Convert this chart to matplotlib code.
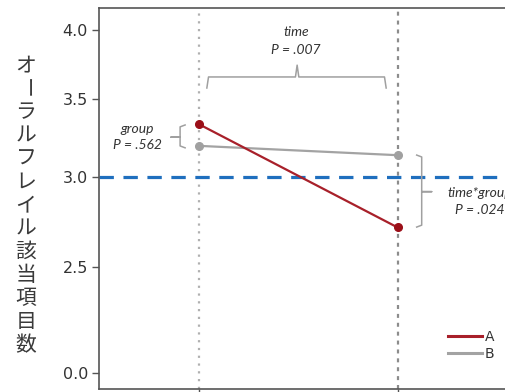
import matplotlib
matplotlib.use("Agg")
import matplotlib.pyplot as plt
from matplotlib.lines import Line2D
import numpy as np

# data
time_points = [1, 2]
group_a = [3.34, 2.72]
group_b = [3.20, 3.14]
cutoff = 3.0
y_ticks = [0.0, 2.5, 3.0, 3.5, 4.0]
y_label = "オーラルフレイル該当項目数"
p_group = ".562"
p_time = ".007"
p_inter = ".024"

# uneven y axis as in the original figure (value -> drawn height)
knot_v = [-5.0, 0.0, 2.5, 3.0, 3.5, 4.0, 10.0]
knot_h = [-212.0, 0.0, 106.0, 196.0, 274.0, 343.5, 1177.5]


def fwd(v):
    return np.interp(v, knot_v, knot_h)


def inv(h):
    return np.interp(h, knot_h, knot_v)


plt.rcParams["font.family"] = ["DejaVu Sans"]

W, H = 506, 392
fig = plt.figure(figsize=(W / 100, H / 100), dpi=100)
ax = fig.add_axes([99 / W, 3 / H, 418 / W, 381 / H])
ax.set_yscale("function", functions=(fwd, inv))
ax.set_ylim(-0.377, 4.155)
ax.set_xlim(0.5, 2.6)

# vertical guides at the two time points
ax.axvline(time_points[0], color="#b0b0b0", lw=1.6, ls=(0, (1, 2.5)), zorder=1)
ax.axvline(time_points[1], color="#8c8c8c", lw=1.6, ls=(0, (1.8, 2.2)), zorder=1)

ax.axhline(cutoff, color="#1f6fbe", lw=2.3, ls=(0, (4.5, 3)), zorder=2)

ax.plot(time_points, group_b, color="#a3a3a3", lw=1.6, marker="o", ms=5.5,
        mfc="#a0a0a0", mec="#a0a0a0", zorder=3)
ax.plot(time_points, group_a, color="#a8202a", lw=1.6, marker="o", ms=5.5,
        mfc="#9b0f18", mec="#9b0f18", zorder=4)

ax.set_yticks(y_ticks)
ax.set_yticklabels([f"{t:.1f}" for t in y_ticks])
ax.set_xticks(time_points)
ax.set_xticklabels([])
ax.tick_params(axis="both", length=5, width=1, color="#555555", pad=3,
               labelsize=11.5, labelcolor="#333333")
for s in ax.spines.values():
    s.set_color("#555555")
    s.set_linewidth(1.2)

handles = [Line2D([], [], color="#a8202a", lw=2.2),
           Line2D([], [], color="#a3a3a3", lw=2.2)]
leg = ax.legend(handles, ["A", "B"], loc="lower right",
                bbox_to_anchor=(0.975, 0.04), frameon=False,
                handlelength=2.4, handletextpad=0.2, labelspacing=0.25,
                prop={"size": 10})
for t in leg.get_texts():
    t.set_color("#333333")

# braces and p values (axes fraction coordinates)
bc = "#a0a0a0"
tkw = dict(transform=ax.transAxes, clip_on=False)
txt = dict(transform=ax.transAxes, fontstyle="italic", family="Lato",
           fontsize=10, color="#333333", ha="center", va="center")

# time brace (horizontal)
ax.plot([0.258, 0.262, 0.470, 0.474, 0.478, 0.683, 0.687],
        [0.790, 0.819, 0.819, 0.850, 0.819, 0.819, 0.790],
        color=bc, lw=1.1, **tkw)
ax.text(0.471, 0.937, "time", **txt)
ax.text(0.471, 0.890, f"P = {p_time}", **txt)

# group brace
ax.plot([0.206, 0.194, 0.194, 0.172, 0.194, 0.194, 0.206],
        [0.693, 0.688, 0.661, 0.661, 0.661, 0.638, 0.633],
        color=bc, lw=1.1, **tkw)
ax.text(0.091, 0.682, "group", **txt)
ax.text(0.091, 0.640, f"P = {p_group}", **txt)

# interaction brace
ax.plot([0.760, 0.772, 0.772, 0.796, 0.772, 0.772, 0.760],
        [0.614, 0.609, 0.518, 0.518, 0.518, 0.430, 0.425],
        color=bc, lw=1.1, **tkw)
ax.text(0.911, 0.515, "time*group", **txt)
ax.text(0.911, 0.470, f"P = {p_inter}", **txt)

# vertical japanese label, one character per row
n = len(y_label)
top, bottom = 1 - 65 / H, 1 - 345 / H
for i, ch in enumerate(y_label):
    yy = top - i * (top - bottom) / (n - 1)
    fig.text(26 / W, yy, ch, rotation=-90 if ch == "ー" else 0,
             ha="center", va="center", fontsize=15, color="#3a3a3a",
             family=["Noto Sans CJK JP", "DejaVu Sans"])

fig.savefig("out.png", dpi=100)
